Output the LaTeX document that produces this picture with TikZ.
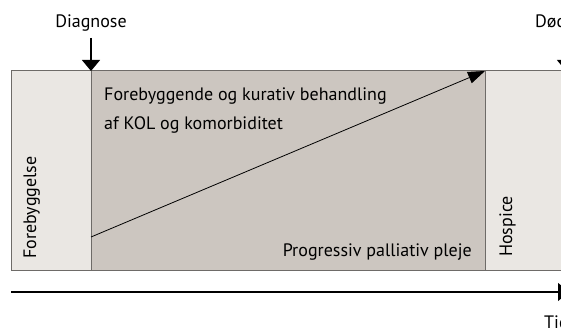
\documentclass[tikz,border=0pt]{standalone}
\usepackage{fontspec}
\setmainfont{PT Sans}
\usetikzlibrary{arrows.meta}
\definecolor{lightfill}{HTML}{EAE7E3}
\definecolor{darkfill}{HTML}{CCC6C0}
\definecolor{frame}{HTML}{6E6B68}
\tikzset{
  lbl/.style={inner sep=0pt, font=\fontsize{18}{21}\selectfont},
  tri/.style={-{Triangle[width=18pt,length=11pt]}, line width=1.2pt},
  box/.style={draw=frame, line width=1pt}
}
\begin{document}
\begin{tikzpicture}[x=1pt,y=-1pt]
\useasboundingbox (0,0) rectangle (561,331);
% boxes
\coordinate (a1) at (11,71);
\coordinate (a2) at (91,270);
\coordinate (b1) at (91,71);
\coordinate (b2) at (485,270);
\coordinate (c1) at (485,71);
\coordinate (c2) at (620,270);
\path[box, fill=lightfill] (a1) rectangle (a2);
\path[box, fill=darkfill] (b1) rectangle (b2);
\path[box, fill=lightfill] (c1) rectangle (c2);
% top labels and arrows
\node[lbl, anchor=base] (diag) at (91,28) {Diagnose};
\node[lbl, anchor=base west] (dod) at (535,28) {Død};
\coordinate (diagtop) at (91,38);
\coordinate (dodtop) at (566,38);
\draw[tri] (diagtop) -- (b1);
\coordinate (dodend) at (566,71);
\draw[tri] (dodtop) -- (dodend);
% diagonal arrow
\coordinate (dstart) at (91,237);
\draw[-{Triangle[width=12pt,length=17pt]}, line width=0.8pt] (dstart) -- (c1);
% texts
\node[lbl, anchor=base west] (t1) at (104,101) {Forebyggende og kurativ behandling};
\node[lbl, anchor=base west] (t2) at (104,130) {af KOL og komorbiditet};
\node[lbl, anchor=base east] (t3) at (472,256) {Progressiv palliativ pleje};
\node[lbl, anchor=base west, rotate=90] (t4) at (36,259) {Forebyggelse};
\node[lbl, anchor=base west, rotate=90] (t5) at (512,257) {Hospice};
% time axis
\coordinate (ax1) at (11,292);
\coordinate (ax2) at (569,292);
\draw[tri] (ax1) -- (ax2);
\node[lbl, anchor=base west] (tid) at (544,328) {Tid};
\end{tikzpicture}
\end{document}
